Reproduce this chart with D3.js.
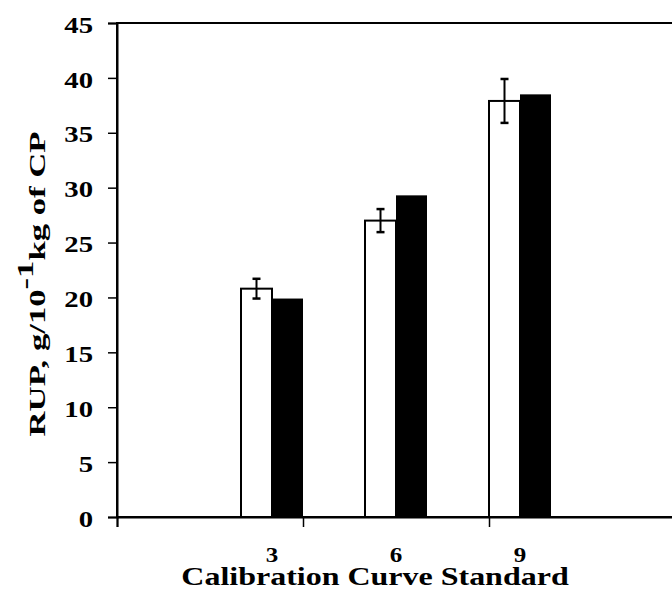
<!DOCTYPE html>
<html>
<head>
<meta charset="utf-8">
<script src="https://cdn.jsdelivr.net/npm/d3@7"></script>
<style>
  body { margin: 0; background: #fff; }
  text { font-family: "Liberation Serif", "Times New Roman", serif; font-weight: bold; fill: #000; }
</style>
</head>
<body>
<div id="chart"></div>
<script>
//Chart data
const categories = ["3", "6", "9"];
const measured = [20.8, 27.0, 37.9];
const measuredErr = [0.9, 1.05, 2.0];
const predicted = [19.9, 29.3, 38.5];
const yTicks = [0, 5, 10, 15, 20, 25, 30, 35, 40, 45];

//Canvas size
const width = 672;
const height = 597;

//Plot frame (right side runs off the canvas)
const PLOT_LEFT = 117, PLOT_TOP = 23, PLOT_BOTTOM = 517, PLOT_RIGHT = 675;

//Text in the original is a little wider than Liberation Serif
const STRETCH = 1.25;

var svg = d3.select("#chart").append("svg")
			.attr("width", width)
			.attr("height", height);

//Widen a text element horizontally, keeping it as real text
function widen(sel, k) {
	sel.each(function() {
		var len = this.getComputedTextLength();
		d3.select(this).attr("textLength", len * k).attr("lengthAdjust", "spacingAndGlyphs");
	});
}

//Slot scale for the category axis
var x = d3.scaleLinear().domain([0, 4.5]).range([PLOT_LEFT, PLOT_RIGHT]);
var y = d3.scaleLinear().domain([0, 45]).range([PLOT_BOTTOM, PLOT_TOP]);

var barW = x(0.25) - x(0);
function center(i) { return x(1.25 + i); }

//Frame
svg.append("rect")
   .attr("x", PLOT_LEFT).attr("y", PLOT_TOP)
   .attr("width", PLOT_RIGHT - PLOT_LEFT).attr("height", PLOT_BOTTOM - PLOT_TOP)
   .attr("fill", "none").attr("stroke", "#000").attr("stroke-width", 2);

//Y axis
var yAxis = svg.append("g")
			   .attr("transform", "translate(" + PLOT_LEFT + ",0)")
			   .call(d3.axisLeft(y).tickValues(yTicks).tickSize(9).tickPadding(15));
yAxis.select(".domain").attr("stroke-width", 2);
yAxis.selectAll(".tick line").attr("stroke-width", 1.5);
yAxis.selectAll(".tick text")
	 .attr("font-size", 23)
	 .attr("dy", "0.40em")
	 .style("font-family", "Liberation Serif")
	 .style("font-weight", "bold")
	 .call(widen, STRETCH);

//X axis ticks
var xAxis = svg.append("g")
			   .attr("transform", "translate(0," + PLOT_BOTTOM + ")")
			   .call(d3.axisBottom(x).tickValues([0, 1.5, 3, 4.5]).tickSize(10).tickFormat(""));
xAxis.select(".domain").attr("stroke-width", 2);
xAxis.selectAll(".tick line").attr("stroke-width", 1.5);

//Category labels
svg.selectAll(".cat")
   .data(categories)
   .enter().append("text")
   .attr("class", "cat")
   .attr("x", function(d, i) { return center(i); })
   .attr("y", 562)
   .attr("text-anchor", "middle")
   .attr("font-size", 20)
   .text(function(d) { return d; })
   .call(widen, STRETCH);

//Measured bars (white)
svg.selectAll(".meas")
   .data(measured)
   .enter().append("rect")
   .attr("x", function(d, i) { return center(i) - barW; })
   .attr("y", function(d) { return y(d); })
   .attr("width", barW)
   .attr("height", function(d) { return PLOT_BOTTOM - y(d); })
   .attr("fill", "#fff").attr("stroke", "#000").attr("stroke-width", 2);

//Predicted bars (black)
svg.selectAll(".pred")
   .data(predicted)
   .enter().append("rect")
   .attr("x", function(d, i) { return center(i); })
   .attr("y", function(d) { return y(d); })
   .attr("width", barW)
   .attr("height", function(d) { return PLOT_BOTTOM - y(d); })
   .attr("fill", "#000");

//Error bars
var err = svg.selectAll(".err")
			 .data(measured)
			 .enter().append("g")
			 .attr("transform", function(d, i) { return "translate(" + (center(i) - barW / 2) + ",0)"; });
err.append("line")
   .attr("y1", function(d, i) { return y(d + measuredErr[i]); })
   .attr("y2", function(d, i) { return y(d - measuredErr[i]); })
   .attr("stroke", "#000").attr("stroke-width", 2);
[1, -1].forEach(function(s) {
	err.append("line")
	   .attr("x1", -4).attr("x2", 4)
	   .attr("y1", function(d, i) { return y(d + s * measuredErr[i]); })
	   .attr("y2", function(d, i) { return y(d + s * measuredErr[i]); })
	   .attr("stroke", "#000").attr("stroke-width", 2.5);
});

//Axis titles
svg.append("text")
   .attr("x", 375).attr("y", 585)
   .attr("text-anchor", "middle")
   .attr("font-size", 26)
   .text("Calibration Curve Standard")
   .call(widen, 1.23);

var yt = svg.append("text")
			.attr("text-anchor", "middle")
			.attr("font-size", 23);
yt.append("tspan").text("RUP,  g/10");
yt.append("tspan").attr("dy", -12).text("-1");
yt.append("tspan").attr("dy", 12).text("kg of CP");
var ytLen = yt.node().getBBox().width;
yt.attr("transform", "translate(45,284) rotate(-90) scale(" + (305 / ytLen) + ",1)");
</script>
</body>
</html>
